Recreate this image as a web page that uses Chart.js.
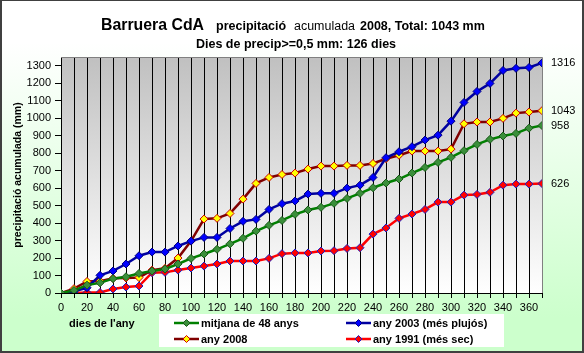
<!DOCTYPE html>
<html><head><meta charset="utf-8">
<script src="https://cdn.jsdelivr.net/npm/chart.js@4/dist/chart.umd.min.js"></script>
<style>html,body{margin:0;padding:0;background:#fff}canvas{display:block}</style>
</head><body>
<canvas id="c" width="584" height="353"></canvas>
<script>
// ---- data ----
const days = [0,10,20,30,40,50,60,70,80,90,100,110,120,130,140,150,160,170,180,190,200,210,220,230,240,250,260,270,280,290,300,310,320,330,340,350,360,370];
const mitjana = [0,15,45,58,82,93,112,126,137,166,198,223,250,281,313,354,387,415,450,475,490,513,541,570,602,629,652,686,718,747,776,814,850,879,898,913,943,958];
const any2003 = [0,10,30,101,126,166,213,234,234,269,297,318,318,369,410,421,478,511,526,566,570,570,600,617,661,774,808,837,875,903,983,1090,1153,1199,1273,1285,1290,1316];
const any2008 = [0,25,66,68,84,86,88,131,141,200,297,423,427,455,537,627,661,678,686,709,726,726,730,730,741,768,788,812,812,812,823,968,978,978,999,1029,1035,1043];
const any1991 = [0,0,3,3,23,34,40,116,118,131,143,154,166,183,183,183,198,225,229,229,240,242,255,259,337,372,427,452,478,520,520,560,564,576,617,623,623,626];
const seriesNames = ['mitjana de 48 anys','any 2003 (més plujós)','any 2008','any 1991 (més sec)'];
const xLabelStep = 20;
const xMax = 370, yMax = 1350, yStep = 100, xStep = 10;
const titleMain = 'Barruera CdA';
const titleParts = ['precipitació', 'acumulada', '2008, Total: 1043 mm'];
const titleLine2 = 'Dies de precip>=0,5 mm: 126 dies';
const yTitle = 'precipitació acumulada (mm)';
const xTitle = "dies de l'any";

const FONT = '"Liberation Sans", Arial, sans-serif';

const pts = arr => days.map((d,i)=>({x:d,y:arr[i]}));

const decor = {
  id:'decor',
  beforeDraw(chart){
    const {ctx, chartArea:a, width, height} = chart;
    ctx.save();
    let g = ctx.createLinearGradient(0,0,0,height);
    g.addColorStop(0,'#ffffff'); g.addColorStop(0.12,'#ffffff'); g.addColorStop(0.9,'#ccffcc'); g.addColorStop(1,'#ccffcc');
    ctx.fillStyle = g; ctx.fillRect(0,0,width,height);
    g = ctx.createLinearGradient(0,a.top,0,a.bottom);
    g.addColorStop(0,'#c0c0c0'); g.addColorStop(1,'#ffffff');
    ctx.fillStyle = g; ctx.fillRect(a.left,a.top,a.right-a.left,a.bottom-a.top);
    ctx.restore();
  },
  afterDraw(chart){
    const {ctx, chartArea:a, width, height} = chart;
    ctx.save();
    // plot top/right border
    ctx.strokeStyle = '#808080'; ctx.lineWidth = 1;
    ctx.beginPath();
    ctx.moveTo(a.left, a.top+0.5); ctx.lineTo(a.right+0.5, a.top+0.5); ctx.lineTo(a.right+0.5, a.bottom);
    ctx.stroke();
    // title
    ctx.fillStyle = '#000'; ctx.textBaseline = 'alphabetic'; ctx.textAlign = 'left';
    ctx.font = 'bold 17px ' + FONT; ctx.fillText(titleMain, 101, 30, 103);
    ctx.font = 'bold 12.5px ' + FONT; ctx.fillText(titleParts[0], 216, 30, 73);
    ctx.font = '12.5px ' + FONT; ctx.fillText(titleParts[1], 294, 30, 61);
    ctx.font = 'bold 12.5px ' + FONT; ctx.fillText(titleParts[2], 360, 30, 131);
    ctx.textAlign = 'center';
    ctx.fillText(titleLine2, 296, 48, 211);
    // end labels
    ctx.font = '11px ' + FONT; ctx.textAlign = 'left'; ctx.textBaseline = 'middle';
    chart.data.datasets.forEach((ds,i)=>{
      const meta = chart.getDatasetMeta(i);
      const p = meta.data[meta.data.length-1];
      ctx.fillText(String(ds.data[ds.data.length-1].y), a.right + 9, p.y);
    });
    // x title
    ctx.font = 'bold 11px ' + FONT; ctx.textBaseline = 'middle';
    ctx.fillText(xTitle, 69, 324);
    // legend
    ctx.fillStyle = '#ffffff'; ctx.fillRect(159, 314, 345, 33);
    const colX = [174, 346], rowY = [323, 339];
    chart.data.datasets.forEach((ds,i)=>{
      const x = colX[i%2], y = rowY[Math.floor(i/2)];
      ctx.strokeStyle = ds.borderColor; ctx.lineWidth = 2.5;
      ctx.beginPath(); ctx.moveTo(x, y); ctx.lineTo(x+25, y); ctx.stroke();
      ctx.fillStyle = ds.pointBackgroundColor; ctx.strokeStyle = ds.pointBorderColor; ctx.lineWidth = 1;
      Chart.helpers.drawPoint(ctx, {pointStyle:'rectRot', radius:3.5, borderWidth:1}, x+12.5, y);
      ctx.fillStyle = '#000'; ctx.font = 'bold 11px ' + FONT; ctx.textAlign='left'; ctx.textBaseline='middle';
      ctx.fillText(ds.label, x+27, y+1);
    });
    // outer border
    ctx.fillStyle = '#404040';
    ctx.fillRect(0,0,width,1); ctx.fillRect(0,0,2,height); ctx.fillRect(width-2,0,2,height); ctx.fillRect(0,height-2,width,2);
    ctx.restore();
  }
};

const mk = (label, arr, line, fill, border) => ({
  label, data: pts(arr), borderColor: line, borderWidth: 2.5,
  pointStyle:'rectRot', pointRadius:4, pointBackgroundColor: fill, pointBorderColor: border, pointBorderWidth:1,
  tension:0, fill:false
});

new Chart(document.getElementById('c'), {
  type:'line',
  data:{ datasets:[
    mk(seriesNames[0], mitjana, '#008000', '#3a8f3a', '#1a5a1a'),
    mk(seriesNames[1], any2003, '#0000a0', '#0000ff', '#000080'),
    mk(seriesNames[2], any2008, '#800000', '#ffff00', '#cc0000'),
    mk(seriesNames[3], any1991, '#ff0000', '#ff0000', '#2020c0')
  ]},
  options:{
    responsive:false, animation:false, devicePixelRatio:1,
    layout:{padding:{top:57,right:42,left:0,bottom:0}},
    plugins:{legend:{display:false}, tooltip:{enabled:false}},
    scales:{
      x:{type:'linear', min:0, max:xMax,
        afterFit(s){ s.height = 60; },
        ticks:{stepSize:xStep, autoSkip:false, maxRotation:0, color:'#000', padding:3,
          font:{family:FONT,size:11},
          callback:v => (v % xLabelStep === 0 && v < xMax) ? String(v) : ''},
        grid:{color:c => (c.tick && c.tick.value === xMax) ? 'rgba(0,0,0,0)' : '#000', lineWidth:1,
          drawTicks:true, tickLength:5, tickColor:'#000'},
        border:{color:'#000', width:1}
      },
      y:{type:'linear', min:0, max:yMax,
        afterFit(s){ s.width = 61; },
        ticks:{stepSize:yStep, includeBounds:false, color:'#000', padding:4, font:{family:FONT,size:11},
          callback:v => String(v)},
        grid:{drawOnChartArea:false, drawTicks:true, tickLength:6, tickColor:'#000'},
        border:{color:'#000', width:1},
        title:{display:true, text:yTitle, color:'#000', font:{family:FONT,size:10.5,weight:'bold'}, padding:{top:12,bottom:0}}
      }
    }
  },
  plugins:[decor]
});
</script>
</body></html>
